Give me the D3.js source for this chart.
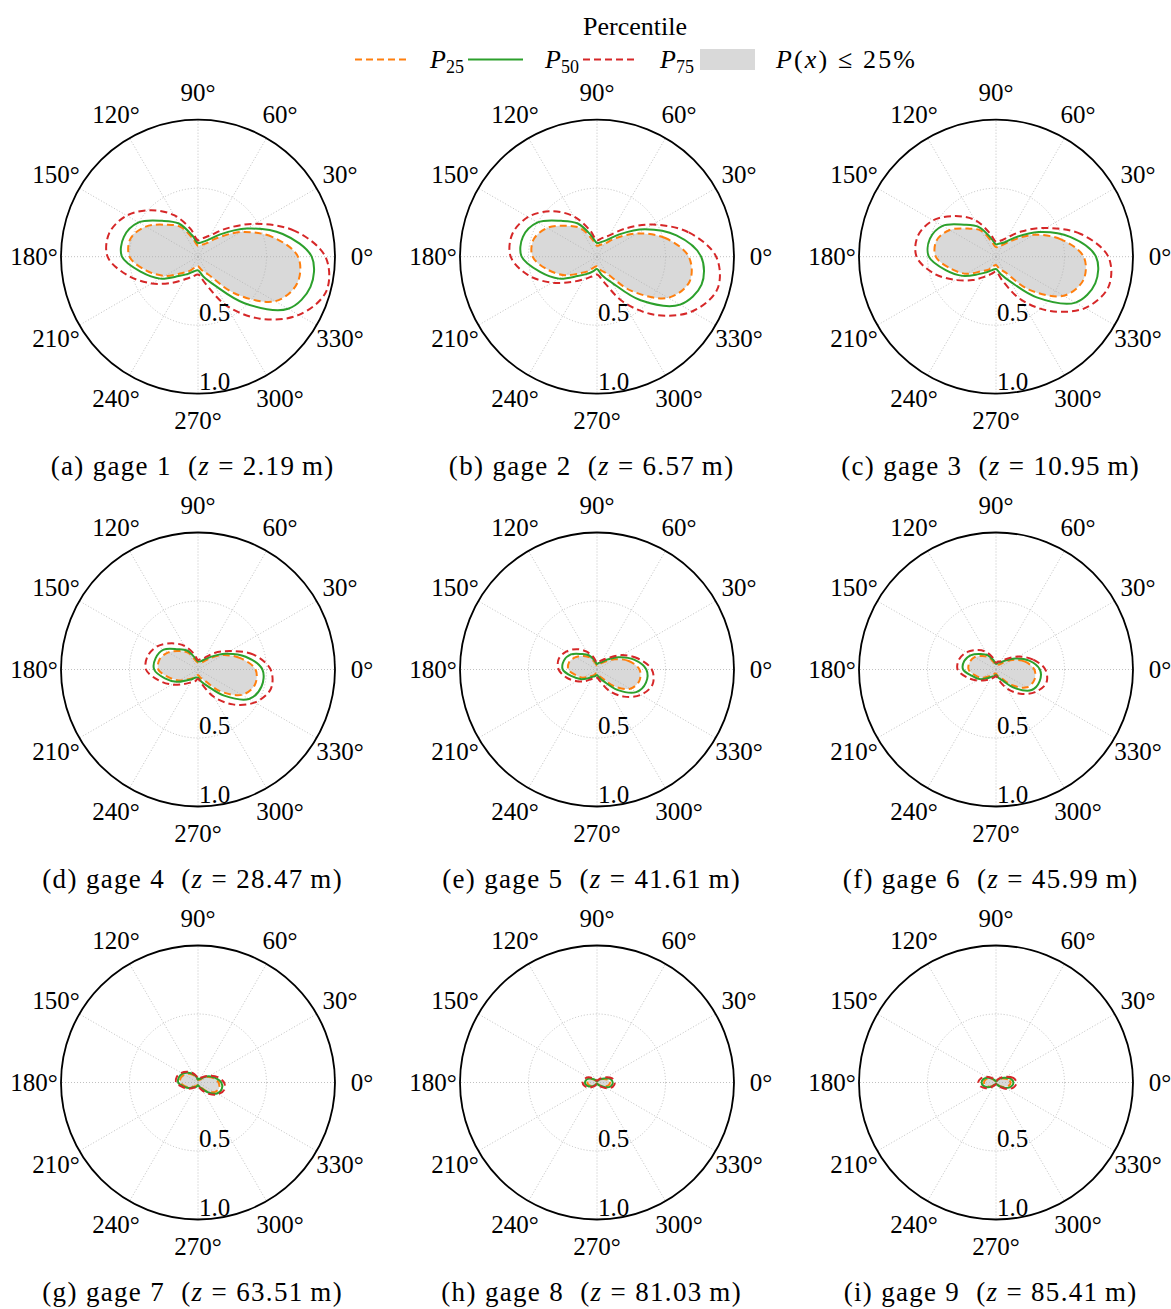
<!DOCTYPE html>
<html><head><meta charset="utf-8">
<script src="https://cdn.jsdelivr.net/npm/d3@7"></script>
<style>
body{margin:0;background:#fff}
text{font-family:"Liberation Serif","DejaVu Serif",serif;fill:#000}
</style>
</head><body>
<svg id="chart" width="1171" height="1309"></svg>
<script>
// ---------------- data ----------------
const angleDeg = [0,15,30,45,60,75,90,105,120,135,150,165,180,195,210,225,240,255,270,285,300,315,330,345];
const angleTickLabels = [0,30,60,90,120,150,180,210,240,270,300,330];
const radialTicks = [0.5, 1.0];
const radialTickLabels = ["0.5", "1.0"];
const gageLetters = ["a","b","c","d","e","f","g","h","i"];
const gageNumbers = [1,2,3,4,5,6,7,8,9];
const gageHeights = ["2.19","6.57","10.95","28.47","41.61","45.99","63.51","81.03","85.41"];
const seriesNames = ["P25","P50","P75"];

// P25 per gage (radius at each angle in angleDeg)
const p25Values = [
  [0.73,0.56,0.36,0.19,0.11,0.09,0.08,0.13,0.25,0.33,0.44,0.51,0.50,0.39,0.28,0.17,0.12,0.08,0.07,0.10,0.15,0.38,0.65,0.75],
  [0.67,0.52,0.34,0.19,0.11,0.09,0.08,0.13,0.24,0.32,0.42,0.48,0.47,0.37,0.27,0.17,0.12,0.08,0.07,0.10,0.14,0.35,0.60,0.70],
  [0.64,0.49,0.32,0.17,0.10,0.08,0.07,0.11,0.22,0.29,0.39,0.45,0.44,0.34,0.25,0.15,0.11,0.07,0.06,0.09,0.13,0.34,0.57,0.66],
  [0.42,0.32,0.21,0.11,0.06,0.05,0.05,0.07,0.14,0.19,0.25,0.29,0.29,0.22,0.16,0.10,0.07,0.05,0.04,0.06,0.09,0.22,0.37,0.43],
  [0.31,0.24,0.15,0.08,0.05,0.04,0.03,0.05,0.10,0.14,0.18,0.21,0.21,0.16,0.12,0.07,0.05,0.03,0.03,0.05,0.07,0.17,0.28,0.32],
  [0.28,0.22,0.14,0.07,0.04,0.04,0.03,0.05,0.10,0.14,0.18,0.20,0.20,0.16,0.12,0.07,0.05,0.03,0.03,0.05,0.07,0.16,0.26,0.29],
  [0.15,0.12,0.08,0.04,0.02,0.02,0.02,0.03,0.06,0.09,0.115,0.13,0.13,0.10,0.07,0.04,0.03,0.02,0.02,0.03,0.04,0.09,0.14,0.16],
  [0.095,0.08,0.05,0.03,0.015,0.01,0.01,0.01,0.015,0.03,0.05,0.065,0.07,0.065,0.05,0.03,0.015,0.01,0.01,0.01,0.015,0.03,0.055,0.085],
  [0.107,0.09,0.06,0.035,0.015,0.01,0.01,0.01,0.015,0.035,0.06,0.08,0.088,0.08,0.06,0.035,0.015,0.01,0.01,0.01,0.015,0.035,0.065,0.095]
];
const p50Values = [
  [0.83,0.64,0.41,0.23,0.14,0.11,0.10,0.16,0.28,0.37,0.50,0.56,0.555,0.43,0.32,0.20,0.145,0.11,0.10,0.15,0.24,0.48,0.76,0.85],
  [0.76,0.60,0.40,0.23,0.14,0.11,0.10,0.16,0.28,0.37,0.50,0.56,0.55,0.43,0.32,0.20,0.145,0.11,0.09,0.14,0.22,0.45,0.70,0.79],
  [0.73,0.56,0.36,0.20,0.12,0.10,0.09,0.14,0.25,0.33,0.45,0.50,0.49,0.38,0.28,0.18,0.13,0.10,0.09,0.13,0.21,0.42,0.67,0.75],
  [0.47,0.36,0.23,0.13,0.08,0.06,0.06,0.09,0.16,0.21,0.29,0.32,0.32,0.25,0.18,0.11,0.08,0.06,0.06,0.09,0.14,0.27,0.43,0.48],
  [0.36,0.28,0.18,0.10,0.06,0.05,0.04,0.07,0.12,0.16,0.22,0.25,0.25,0.19,0.14,0.09,0.06,0.05,0.04,0.06,0.10,0.21,0.33,0.37],
  [0.32,0.25,0.16,0.09,0.06,0.05,0.04,0.07,0.12,0.16,0.21,0.24,0.24,0.18,0.14,0.09,0.06,0.05,0.04,0.06,0.09,0.19,0.30,0.33],
  [0.17,0.13,0.09,0.05,0.03,0.03,0.02,0.04,0.07,0.10,0.13,0.145,0.145,0.11,0.08,0.05,0.04,0.03,0.02,0.03,0.05,0.10,0.16,0.18],
  [0.115,0.10,0.06,0.035,0.02,0.01,0.01,0.01,0.02,0.035,0.06,0.08,0.088,0.08,0.06,0.035,0.02,0.01,0.01,0.01,0.02,0.035,0.07,0.105],
  [0.127,0.11,0.07,0.04,0.02,0.01,0.01,0.01,0.02,0.04,0.07,0.095,0.105,0.095,0.07,0.04,0.02,0.01,0.01,0.01,0.02,0.04,0.08,0.115]
];
const p75Values = [
  [0.93,0.73,0.48,0.29,0.18,0.14,0.12,0.21,0.35,0.48,0.60,0.67,0.66,0.53,0.39,0.27,0.19,0.15,0.13,0.20,0.41,0.64,0.85,0.97],
  [0.87,0.69,0.47,0.29,0.18,0.14,0.12,0.20,0.34,0.47,0.58,0.64,0.63,0.52,0.38,0.26,0.19,0.15,0.13,0.19,0.38,0.60,0.80,0.91],
  [0.82,0.64,0.42,0.26,0.16,0.12,0.11,0.18,0.31,0.42,0.53,0.59,0.58,0.47,0.34,0.24,0.17,0.13,0.11,0.18,0.36,0.56,0.75,0.85],
  [0.53,0.42,0.27,0.17,0.10,0.08,0.07,0.12,0.20,0.27,0.34,0.38,0.38,0.30,0.22,0.15,0.11,0.09,0.07,0.11,0.23,0.36,0.48,0.55],
  [0.40,0.31,0.21,0.12,0.08,0.06,0.05,0.09,0.15,0.21,0.26,0.29,0.28,0.23,0.17,0.12,0.08,0.06,0.06,0.09,0.18,0.28,0.37,0.42],
  [0.36,0.28,0.19,0.11,0.07,0.06,0.05,0.09,0.15,0.20,0.25,0.28,0.28,0.22,0.16,0.11,0.08,0.06,0.05,0.08,0.16,0.25,0.33,0.38],
  [0.19,0.15,0.10,0.06,0.04,0.03,0.03,0.05,0.08,0.11,0.14,0.16,0.16,0.12,0.09,0.06,0.04,0.03,0.03,0.04,0.07,0.12,0.17,0.20],
  [0.13,0.115,0.075,0.045,0.025,0.015,0.015,0.015,0.025,0.045,0.075,0.095,0.105,0.095,0.075,0.045,0.025,0.015,0.015,0.015,0.025,0.045,0.085,0.12],
  [0.15,0.13,0.085,0.05,0.025,0.015,0.015,0.015,0.025,0.05,0.085,0.115,0.13,0.115,0.085,0.05,0.025,0.015,0.015,0.015,0.025,0.05,0.095,0.135]
];

// ---------------- layout / style ----------------
const colX = [198, 597, 996];
const rowY = [256.7, 669.5, 1082.5];
const R = 137;
const colors = {P25:"#ff7f0e", P50:"#2ca02c", P75:"#d62728", fill:"#d9d9d9", grid:"#b0b0b0"};
const dashes = {P25:"7,4", P50:null, P75:"7,4"};

const svg = d3.select("#chart");
const rScale = d3.scaleLinear().domain([0,1]).range([0,R]);
const aScale = d3.scaleLinear().domain([0,360]).range([Math.PI/2, Math.PI/2 - 2*Math.PI]);

const radialLine = d3.lineRadial()
  .angle(d => aScale(d[0]))
  .radius(d => rScale(d[1]))
  .curve(d3.curveCatmullRomClosed.alpha(0.5));

const allSeries = [p25Values, p50Values, p75Values];

gageNumbers.forEach((g, i) => {
  const cx = colX[i % 3], cy = rowY[Math.floor(i / 3)];
  const gg = svg.append("g").attr("transform", `translate(${cx},${cy})`);

  // fill (P(x) <= 25%)
  const p25pts = angleDeg.map((a, k) => [a, p25Values[i][k]]);
  gg.append("path").attr("d", radialLine(p25pts)).attr("fill", colors.fill).attr("stroke", "none");

  // grid: spokes
  angleTickLabels.forEach(a => {
    const th = aScale(a);
    gg.append("line")
      .attr("x1", 0).attr("y1", 0)
      .attr("x2", rScale(1) * Math.sin(th)).attr("y2", -rScale(1) * Math.cos(th))
      .attr("stroke", colors.grid).attr("stroke-width", 0.8).attr("stroke-dasharray", "1,2");
  });
  // grid: rings
  radialTicks.forEach(v => {
    gg.append("circle").attr("r", rScale(v)).attr("fill", "none")
      .attr("stroke", colors.grid).attr("stroke-width", 0.8).attr("stroke-dasharray", "1,2");
  });

  // series lines
  seriesNames.forEach((s, si) => {
    const pts = angleDeg.map((a, k) => [a, allSeries[si][i][k]]);
    gg.append("path").attr("d", radialLine(pts)).attr("fill", "none")
      .attr("stroke", colors[s]).attr("stroke-width", 2)
      .attr("stroke-dasharray", dashes[s]);
  });

  // outer frame
  gg.append("circle").attr("r", rScale(1)).attr("fill", "none").attr("stroke", "#000").attr("stroke-width", 1.8);

  // angle labels
  angleTickLabels.forEach(a => {
    const th = aScale(a), rl = R + 27;
    gg.append("text")
      .attr("x", rl * Math.sin(th)).attr("y", -rl * Math.cos(th))
      .attr("text-anchor", "middle").attr("dominant-baseline", "central")
      .style("font-size", "25px").text(a + "°");
  });
  // radial labels
  radialTicks.forEach((v, k) => {
    gg.append("text").attr("x", 1).attr("y", rScale(v) - 4)
      .style("font-size", "25px").text(radialTickLabels[k]);
  });

  // caption
  const cap = svg.append("text").attr("x", cx - 6).attr("y", cy + 218)
    .attr("text-anchor", "middle").style("font-size", "27px");
  cap.append("tspan").text(`(${gageLetters[i]}) gage ${g}\u00a0 (`);
  cap.append("tspan").style("font-style", "italic").text("z");
  cap.append("tspan").text(`\u00a0= ${gageHeights[i]}\u2009m)`);
  const w = cap.node().getComputedTextLength();
  cap.attr("textLength", w * 1.12).attr("lengthAdjust", "spacing");
});

// ---------------- legend ----------------
svg.append("text").attr("x", 635).attr("y", 35).attr("text-anchor", "middle")
  .style("font-size", "26px").text("Percentile");

const legY = 59.5;
const legHandleX = [355, 468, 583, 700];
const legLabelX = [430, 545, 660, 776];
const legSubs = ["25", "50", "75"];
seriesNames.forEach((s, k) => {
  svg.append("line").attr("x1", legHandleX[k]).attr("x2", legHandleX[k] + 55)
    .attr("y1", legY).attr("y2", legY)
    .attr("stroke", colors[s]).attr("stroke-width", 2).attr("stroke-dasharray", dashes[s]);
  const t = svg.append("text").attr("x", legLabelX[k]).attr("y", 68).style("font-size", "26px");
  t.append("tspan").style("font-style", "italic").text("P");
  t.append("tspan").attr("dy", 5).style("font-size", "18px").text(legSubs[k]);
});
svg.append("rect").attr("x", legHandleX[3]).attr("y", 49).attr("width", 55).attr("height", 21)
  .attr("fill", colors.fill);
const lt = svg.append("text").attr("x", legLabelX[3]).attr("y", 68).style("font-size", "26px");
lt.append("tspan").style("font-style", "italic").text("P");
lt.append("tspan").text("(");
lt.append("tspan").style("font-style", "italic").text("x");
lt.append("tspan").text(") \u2264 25%");
lt.attr("textLength", 139).attr("lengthAdjust", "spacing");
</script>
</body></html>
